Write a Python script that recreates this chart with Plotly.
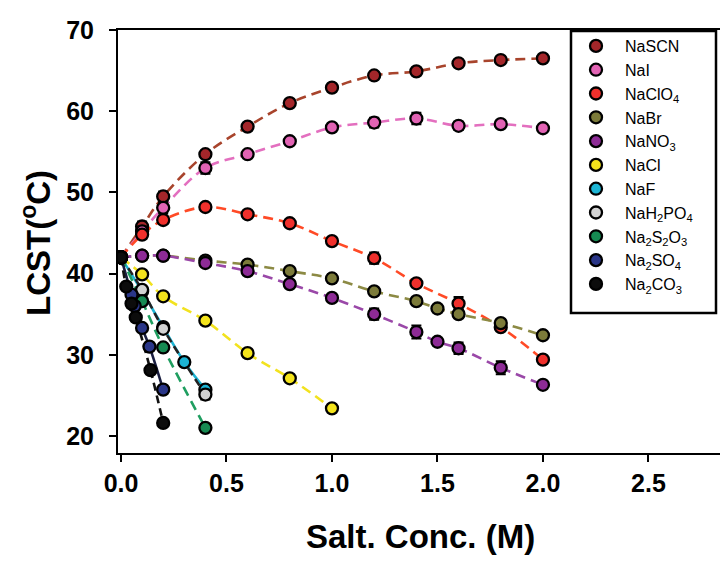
import plotly.graph_objects as go

# ---------------- data ----------------
names = ["NaSCN", "NaI", "NaClO<sub>4</sub>", "NaBr", "NaNO<sub>3</sub>", "NaCl", "NaF",
         "NaH<sub>2</sub>PO<sub>4</sub>", "Na<sub>2</sub>S<sub>2</sub>O<sub>3</sub>",
         "Na<sub>2</sub>SO<sub>4</sub>", "Na<sub>2</sub>CO<sub>3</sub>"]

x_big = [0, 0.1, 0.2, 0.4, 0.6, 0.8, 1.0, 1.2, 1.4, 1.6, 1.8, 2.0]
nascn_y = [42, 45.8, 49.5, 54.7, 58.1, 61.0, 62.9, 64.4, 64.9, 65.9, 66.3, 66.5]
nascn_e = [0, 0.6, 0.6, 0.4, 0.3, 0.3, 0.3, 0.4, 0.3, 0.3, 0.3, 0.3]
nai_y = [42, 45.2, 48.1, 53.0, 54.7, 56.3, 58.0, 58.6, 59.1, 58.2, 58.4, 57.9]
nai_e = [0, 0.6, 0.7, 0.7, 0.3, 0.4, 0.3, 0.6, 0.7, 0.5, 0.3, 0.3]
naclo4_y = [42, 44.8, 46.6, 48.2, 47.3, 46.2, 44.0, 41.9, 38.8, 36.3, 33.4, 29.4]
naclo4_e = [0, 0.5, 0.5, 0.3, 0.3, 0.4, 0.3, 0.7, 0.3, 0.8, 0.4, 0.3]

x_mid = [0, 0.1, 0.2, 0.4, 0.6, 0.8, 1.0, 1.2, 1.4, 1.5, 1.6, 1.8, 2.0]
nabr_y = [42, 42.2, 42.2, 41.6, 41.1, 40.3, 39.4, 37.8, 36.6, 35.7, 35.0, 33.9, 32.4]
nabr_e = [0, 0.3, 0.3, 0.3, 0.3, 0.4, 0.5, 0.3, 0.3, 0.3, 0.3, 0.4, 0.3]
nano3_y = [42, 42.2, 42.2, 41.3, 40.3, 38.7, 37.0, 35.0, 32.8, 31.6, 30.8, 28.4, 26.3]
nano3_e = [0, 0.3, 0.3, 0.3, 0.4, 0.3, 0.3, 0.7, 0.8, 0.3, 0.7, 0.8, 0.3]

nacl_x = [0, 0.1, 0.2, 0.4, 0.6, 0.8, 1.0]
nacl_y = [42, 39.9, 37.2, 34.2, 30.2, 27.1, 23.4]

naf_x = [0, 0.1, 0.2, 0.3, 0.4]
naf_y = [42, 37.8, 33.4, 29.1, 25.7]

nah2po4_x = [0, 0.1, 0.2, 0.4]
nah2po4_y = [42, 38.0, 33.2, 25.1]

na2s2o3_x = [0, 0.1, 0.2, 0.4]
na2s2o3_y = [42, 36.6, 30.9, 21.0]

na2so4_x = [0, 0.05, 0.065, 0.1, 0.135, 0.2]
na2so4_y = [42, 37.4, 36.0, 33.3, 31.0, 25.7]

na2co3_x = [0, 0.025, 0.05, 0.07, 0.14, 0.2]
na2co3_y = [42, 38.4, 36.3, 34.6, 28.1, 21.6]

x_ticks = [0, 0.5, 1.0, 1.5, 2.0, 2.5]
x_ticklabels = ["0.0", "0.5", "1.0", "1.5", "2.0", "2.5"]
y_ticks = [20, 30, 40, 50, 60, 70]

series = [
    # name, x, y, err, marker colour, line colour, dash
    (names[0], x_big, nascn_y, nascn_e, "#a4262a", "#a8442c", "10px,6px"),
    (names[1], x_big, nai_y, nai_e, "#e263b4", "#e36fbf", "10px,6px"),
    (names[2], x_big, naclo4_y, naclo4_e, "#f0302c", "#ff4a26", "10px,6px"),
    (names[3], x_mid, nabr_y, nabr_e, "#7c7b3a", "#8c8a44", "10px,6px"),
    (names[4], x_mid, nano3_y, nano3_e, "#8d2b96", "#9a48a8", "10px,6px"),
    (names[5], nacl_x, nacl_y, None, "#f4e41c", "#f2e21e", "10px,6px"),
    (names[6], naf_x, naf_y, None, "#1cb4d4", "#1cb4d4", "solid"),
    (names[7], nah2po4_x, nah2po4_y, [0, 0.3, 0.3, 0.6], "#d2d2d2", "#222222", "8px,5px"),
    (names[8], na2s2o3_x, na2s2o3_y, None, "#168a52", "#1f9e60", "10px,6px"),
    (names[9], na2so4_x, na2so4_y, None, "#2a3688", "#1a1e40", "solid"),
    (names[10], na2co3_x, na2co3_y, None, "#0c0c0c", "#111111", "8px,5px"),
]

fig = go.Figure()

# fitted-looking lines first
for name, xs, ys, err, mc, lc, dash in series:
    fig.add_trace(go.Scatter(
        x=xs, y=ys, mode="lines", showlegend=False, hoverinfo="skip",
        line=dict(color=lc, width=2.6, dash=dash, shape="spline", smoothing=1.0),
    ))

# markers on top
for name, xs, ys, err, mc, lc, dash in series:
    kw = {}
    if err is not None:
        kw["error_y"] = dict(type="data", array=err, visible=True, color="#000000",
                             thickness=2, width=5)
    fig.add_trace(go.Scatter(
        x=xs, y=ys, mode="markers", name=name,
        marker=dict(size=12, color=mc, line=dict(color="#000000", width=2.3)),
        **kw,
    ))

W, H = 728, 566
L, R, T, B = 110, 0, 22, 121
pw = W - L - R
ph = H - T - B

def px_x(p):
    return (p - L) / pw

def px_y(p):
    return 1 - (p - T) / ph

fig.update_layout(
    width=W, height=H,
    margin=dict(l=L, r=R, t=T, b=B),
    paper_bgcolor="white", plot_bgcolor="white",
    font=dict(family="Liberation Sans, Arial, sans-serif", color="#000000"),
    xaxis=dict(
        range=[-0.0142, 2.915], tickvals=x_ticks, ticktext=x_ticklabels,
        ticks="outside", ticklen=7, tickwidth=2, tickcolor="#000000",
        showline=True, linecolor="#000000", linewidth=2, mirror=True,
        showgrid=False, zeroline=False,
        tickfont=dict(size=25, weight="bold"), ticklabelstandoff=0,
    ),
    yaxis=dict(
        range=[17.9, 70.0], tickvals=y_ticks,
        ticks="outside", ticklen=7, tickwidth=2, tickcolor="#000000",
        showline=True, linecolor="#000000", linewidth=2,
        showgrid=False, zeroline=False,
        tickfont=dict(size=25, weight="bold"), ticklabelstandoff=10,
    ),
    legend=dict(
        x=px_x(559), xanchor="left", y=px_y(21), yanchor="top",
        bgcolor="rgba(0,0,0,0)", borderwidth=0,
        font=dict(size=16, color="#000000"),
        itemwidth=48,
    ),
    shapes=[dict(type="rect", xref="paper", yref="paper",
                 x0=px_x(563), x1=px_x(708), y0=px_y(305), y1=px_y(23),
                 line=dict(color="#000000", width=2.5), fillcolor="rgba(0,0,0,0)",
                 layer="above")],
    annotations=[
        dict(text="<b>Salt. Conc. (M)</b>", xref="paper", yref="paper",
             x=px_x(412), y=px_y(528), xanchor="center", yanchor="middle",
             showarrow=False, font=dict(size=33)),
        dict(text="<b>LCST(<sup>o</sup>C)</b>", xref="paper", yref="paper",
             x=px_x(28), y=px_y(235), xanchor="center", yanchor="middle",
             textangle=-90, showarrow=False, font=dict(size=33)),
    ],
)

fig.write_html("out.html")
